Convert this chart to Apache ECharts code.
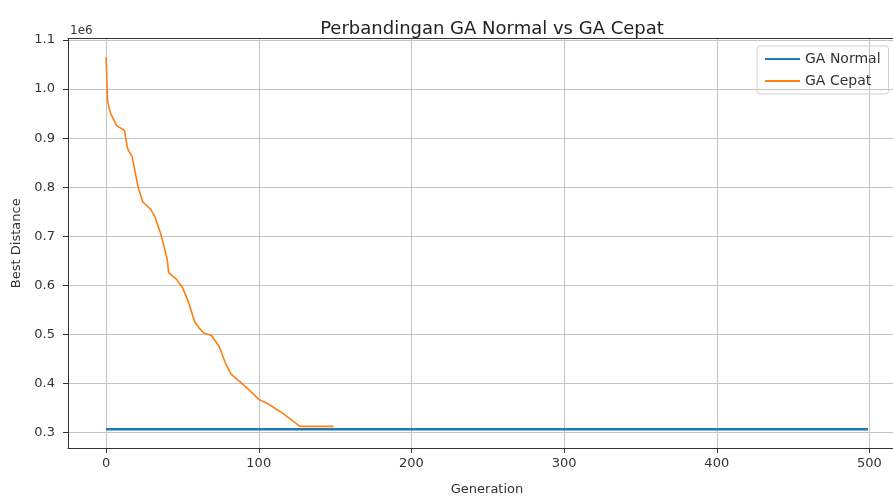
<!DOCTYPE html>
<html>
<head>
<meta charset="utf-8">
<script src="https://cdn.jsdelivr.net/npm/echarts@6/dist/echarts.min.js"></script>
<style>html,body{margin:0;padding:0;background:#fff;overflow:hidden;width:893px;height:501px}#c{width:920px;height:501px}</style>
</head>
<body>
<div id="c"></div>
<script>
const xTicks = [0, 100, 200, 300, 400, 500];
const yTicks = [300000, 400000, 500000, 600000, 700000, 800000, 900000, 1000000, 1100000];
const normalGen = [0, 499];
const normalBest = [307000, 307000];
const cepatGen = [0, 1, 3, 4, 7, 12, 14, 15, 17, 21, 24, 29, 32, 36, 40, 41, 46, 50, 54, 58, 61, 64, 69, 74, 78, 82, 88, 93, 100, 106, 116, 127, 149];
const cepatBest = [1065000, 974000, 950000, 944000, 925000, 916000, 880000, 873000, 863000, 800000, 770000, 756000, 740000, 703000, 653000, 626000, 613000, 596000, 566000, 526000, 513000, 503000, 498000, 476000, 443000, 419000, 403000, 389000, 368000, 359000, 339000, 313000, 313000];

const F = 'DejaVu Sans';
const XMIN = -24.95, XMAX = 523.95;
const chart = echarts.init(document.getElementById('c'), null, {renderer: 'canvas'});
chart.setOption({
  animation: false,
  backgroundColor: '#fff',
  title: {
    text: 'Perbandingan GA Normal vs GA Cepat',
    left: 487, top: 15, textAlign: 'center',
    textStyle: {fontFamily: F, fontSize: 18, fontWeight: 'normal', color: '#222'}
  },
  graphic: [{type: 'text', left: 70, top: 25, style: {text: '1e6', fontFamily: F, fontSize: 12, fill: '#333'}}],
  legend: {
    orient: 'vertical', left: 757, top: 46,
    data: ['GA Normal', 'GA Cepat'],
    icon: 'rect', itemWidth: 35, itemHeight: 2, itemGap: 8,
    padding: [6, 8, 6, 8],
    borderColor: '#d0d0d0', borderWidth: 1, borderRadius: 3,
    textStyle: {fontFamily: F, fontSize: 14, color: '#333', lineHeight: 14}
  },
  grid: {left: 68, right: 14, top: 38.5, bottom: 46},
  xAxis: [{
    type: 'value', min: XMIN, max: XMAX,
    name: 'Generation', nameLocation: 'middle', nameGap: 35,
    nameTextStyle: {fontFamily: F, fontSize: 13, color: '#333'},
    axisLine: {onZero: false, lineStyle: {color: '#333', width: 1}},
    axisTick: {show: true, length: 5, customValues: xTicks, lineStyle: {color: '#333'}},
    axisLabel: {customValues: xTicks, fontFamily: F, fontSize: 13, color: '#333', margin: 9},
    splitLine: {show: true, lineStyle: {color: '#c4c4c4', width: 1}}
  }, {
    type: 'value', position: 'top', min: XMIN, max: XMAX,
    axisLine: {show: true, onZero: false, lineStyle: {color: '#333', width: 1}},
    axisTick: {show: false}, axisLabel: {show: false}, splitLine: {show: false}
  }],
  yAxis: {
    type: 'value', min: 268900, max: 1103000,
    name: 'Best Distance', nameLocation: 'middle', nameGap: 44, nameRotate: 90,
    nameTextStyle: {fontFamily: F, fontSize: 13, color: '#333'},
    axisLine: {show: true, onZero: false, lineStyle: {color: '#333', width: 1}},
    axisTick: {show: true, length: 5, customValues: yTicks, lineStyle: {color: '#333'}},
    axisLabel: {customValues: yTicks, fontFamily: F, fontSize: 13, color: '#333', margin: 13,
      formatter: v => (v / 1e6).toFixed(1)},
    splitLine: {show: true, lineStyle: {color: '#c4c4c4', width: 1}}
  },
  series: [
    {name: 'GA Normal', type: 'line', showSymbol: false, color: '#1f77b4',
     lineStyle: {width: 2.5}, data: normalGen.map((g, i) => [g, normalBest[i]])},
    {name: 'GA Cepat', type: 'line', showSymbol: false, color: '#ff7f0e',
     lineStyle: {width: 1.6}, data: cepatGen.map((g, i) => [g, cepatBest[i]])}
  ]
});
</script>
</body>
</html>
